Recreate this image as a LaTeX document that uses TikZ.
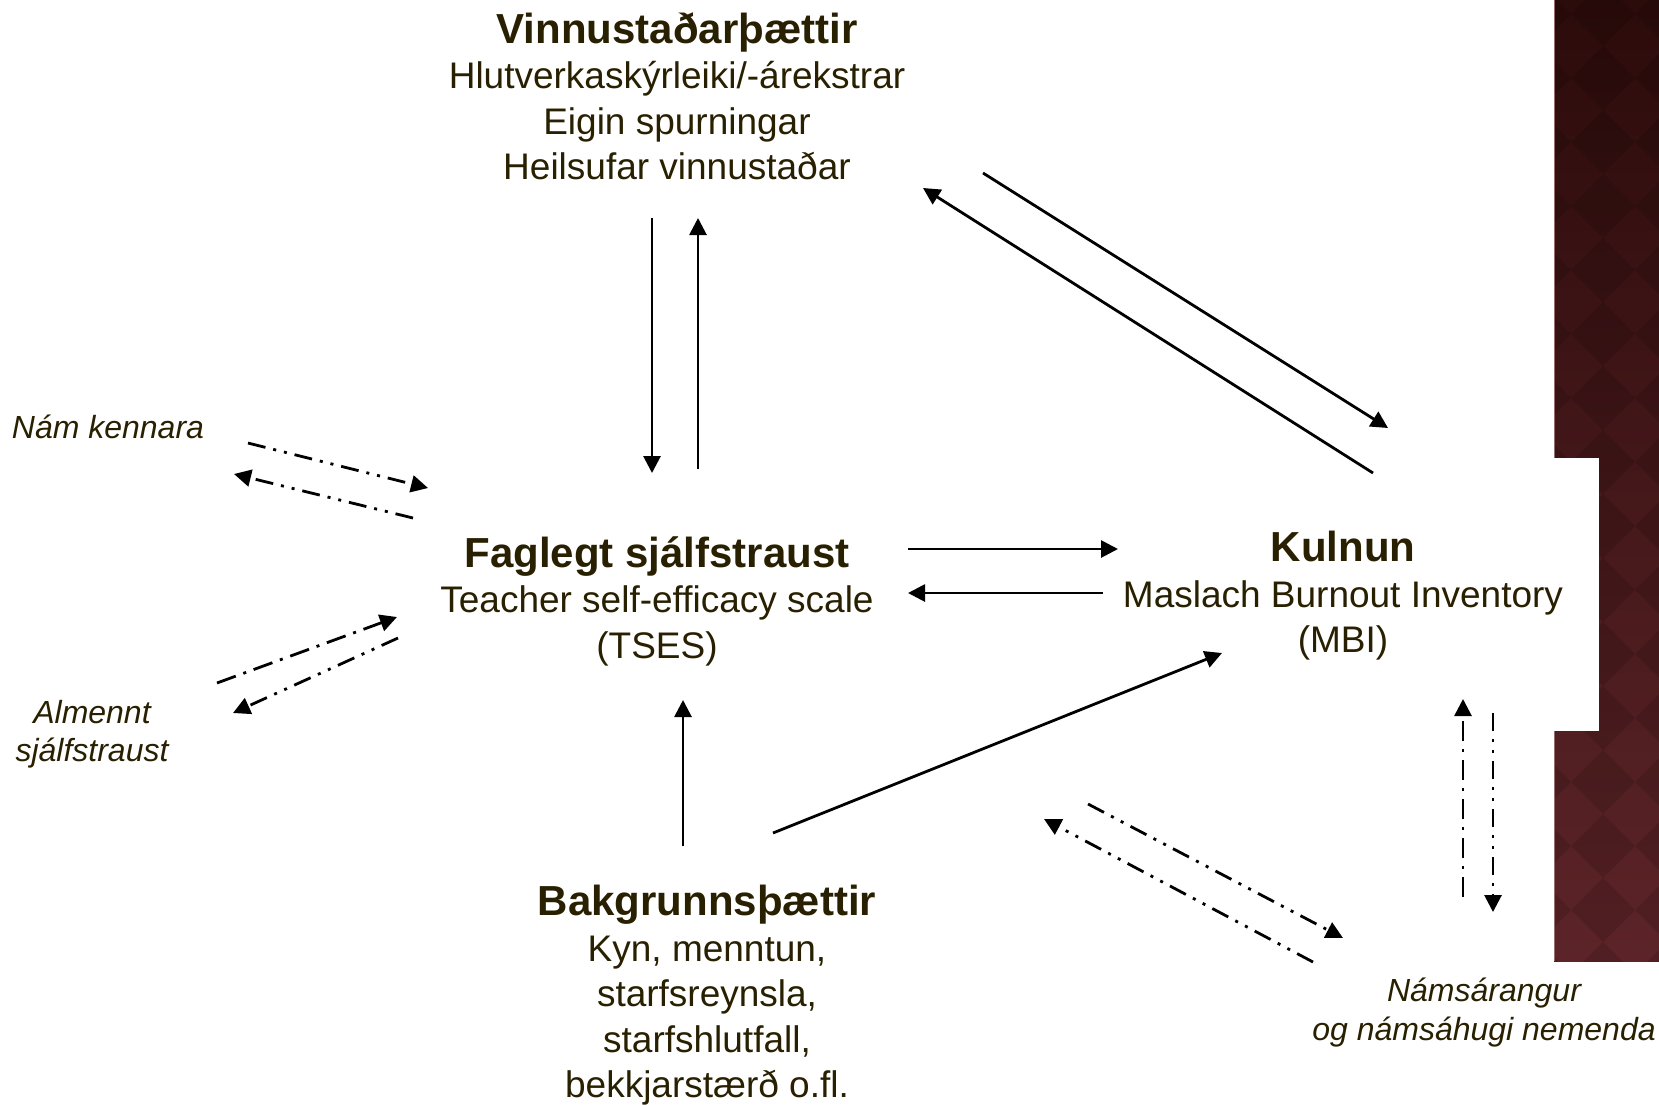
\documentclass[tikz,border=0pt]{standalone}
\usepackage{fontspec}
\setmainfont{Liberation Sans}
\usetikzlibrary{arrows.meta}
\definecolor{txt}{RGB}{40,32,0}
\definecolor{striptop}{RGB}{44,11,11}
\definecolor{stripbot}{RGB}{92,36,40}
\definecolor{stripedge}{RGB}{150,110,110}
\begin{document}
\begin{tikzpicture}[x=1pt,y=-1pt,
  conn/.style={line width=2.8pt, -{Triangle[length=17pt,width=17pt]}},
  dashdot/.style={conn, dash pattern=on 20pt off 8pt on 3pt off 8pt},
  dashdotdot/.style={conn, dash pattern=on 18pt off 8pt on 3pt off 8pt on 3pt off 8pt},
  main/.style={text=txt, align=center, font=\fontsize{37}{45.5}\selectfont, inner sep=0pt, anchor=north},
  side/.style={text=txt, align=center, font=\fontsize{32}{38.4}\selectfont\itshape, inner sep=0pt, anchor=north}
]
\useasboundingbox (0,0) rectangle (1659,1104);
\fill[white] (0,0) rectangle (1659,1104);

% decorative strip
\begin{scope}
  \clip (1554,0) rectangle (1659,961);
  \shade[top color=striptop, bottom color=stripbot] (1554,0) rectangle (1659,961);
  \foreach \cx in {1539,1603,1667}{
    \foreach \k in {-1,...,15}{
      \fill[black, opacity=0.12] (\cx,{14+64*\k-32}) -- ++(32,32) -- ++(-32,32) -- ++(-32,-32) -- cycle;
    }
  }
\end{scope}
\draw[stripedge, line width=0.8pt] (1554.4,0) -- (1554.4,961);
\fill[white] (1553,458) rectangle (1599,731);

% nodes
\node[main] (vinnu) at (677,12) {{\fontsize{42}{45.5}\selectfont\bfseries Vinnustaðarþættir}\\Hlutverkaskýrleiki/-árekstrar\\Eigin spurningar\\Heilsufar vinnustaðar};
\node[main] (fag) at (657,536) {{\fontsize{42}{45.5}\selectfont\bfseries Faglegt sjálfstraust}\\Teacher self-efficacy scale\\(TSES)};
\node[main] (kul) at (1343,531) {{\fontsize{42}{45.5}\selectfont\bfseries Kulnun}\\Maslach Burnout Inventory\\(MBI)};
\node[main] (bak) at (707,885) {{\fontsize{42}{45.5}\selectfont\bfseries Bakgrunnsþættir}\\Kyn, menntun,\\starfsreynsla,\\starfshlutfall,\\bekkjarstærð o.fl.};
\node[side, anchor=base] (nam) at (108,438) {Nám kennara};
\node[side] (alm) at (92,700) {Almennt\\sjálfstraust};
\node[side] (nem) at (1484,978) {Námsárangur\\og námsáhugi nemenda};

% connector end points
\coordinate (vf1) at (652,218);  \coordinate (vf2) at (652,473);
\coordinate (fv1) at (698,469);  \coordinate (fv2) at (698,218);
\coordinate (vk1) at (983,173);  \coordinate (vk2) at (1388,428);
\coordinate (kv1) at (1373,473); \coordinate (kv2) at (923,188);
\coordinate (fk1) at (908,549);  \coordinate (fk2) at (1118,549);
\coordinate (kf1) at (1103,593); \coordinate (kf2) at (908,593);
\coordinate (bf1) at (683,846);  \coordinate (bf2) at (683,700);
\coordinate (bk1) at (773,833);  \coordinate (bk2) at (1222,653);
\coordinate (nf1) at (248,443);  \coordinate (nf2) at (428,488);
\coordinate (fn1) at (413,518);  \coordinate (fn2) at (234,474);
\coordinate (af1) at (217,683);  \coordinate (af2) at (397,617);
\coordinate (fa1) at (398,638);  \coordinate (fa2) at (233,713);
\coordinate (ek1) at (1463,897); \coordinate (ek2) at (1463,699);
\coordinate (ke1) at (1493,713); \coordinate (ke2) at (1493,912);
\coordinate (be1) at (1088,804); \coordinate (be2) at (1343,938);
\coordinate (eb1) at (1313,962); \coordinate (eb2) at (1044,819);

% solid connectors
\draw[conn] (vf1) -- (vf2);
\draw[conn] (fv1) -- (fv2);
\draw[conn] (vk1) -- (vk2);
\draw[conn] (kv1) -- (kv2);
\draw[conn] (fk1) -- (fk2);
\draw[conn] (kf1) -- (kf2);
\draw[conn] (bf1) -- (bf2);
\draw[conn] (bk1) -- (bk2);

% dashed connectors
\draw[dashdotdot] (nf1) -- (nf2);
\draw[dashdotdot] (fn1) -- (fn2);
\draw[dashdot] (af1) -- (af2);
\draw[dashdotdot] (fa1) -- (fa2);
\draw[dashdot] (ek1) -- (ek2);
\draw[dashdotdot] (ke1) -- (ke2);
\draw[dashdotdot] (be1) -- (be2);
\draw[dashdotdot] (eb1) -- (eb2);
\end{tikzpicture}
\end{document}
